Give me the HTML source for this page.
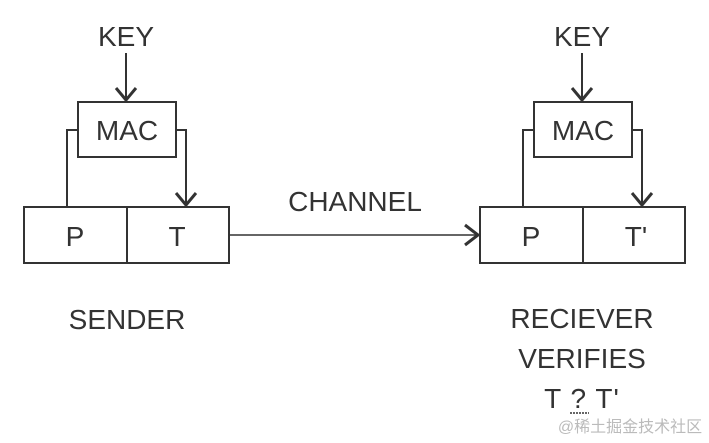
<!DOCTYPE html>
<html><head><style>body{margin:0;background:#fff}svg text{font-family:"Liberation Sans",sans-serif;fill:#333;font-size:28px;text-anchor:middle}</style></head><body>
<svg width="709" height="438" viewBox="0 0 709 438" xmlns="http://www.w3.org/2000/svg">
<g stroke="#333" stroke-width="2" fill="none">
<g id="s">
<line x1="126" y1="53" x2="126" y2="99"/>
<polyline points="116,88 126,100 136,88" stroke-width="3"/>
<rect x="78" y="102" width="98" height="55"/>
<polyline points="78,130 67,130 67,207"/>
<polyline points="176,130 186,130 186,205"/>
<polyline points="176,193 186,205 196,193" stroke-width="3"/>
<rect x="24" y="207" width="205" height="56"/>
<line x1="127" y1="207" x2="127" y2="263"/>
</g>
<use href="#s" transform="translate(456,0)"/>
<line x1="229" y1="235" x2="477" y2="235" stroke-width="1.5"/>
<polyline points="465,225 478,235 465,245" stroke-width="3"/>
</g>
<text x="126" y="46">KEY</text>
<text x="127" y="140">MAC</text>
<text x="75" y="246">P</text>
<text x="177" y="246">T</text>
<text x="582" y="46">KEY</text>
<text x="583" y="140">MAC</text>
<text x="531" y="246">P</text>
<text x="636" y="246">T'</text>
<text x="355" y="211">CHANNEL</text>
<text x="127" y="329">SENDER</text>
<text x="582" y="328">RECIEVER</text>
<text x="582" y="368">VERIFIES</text>
<text x="582" y="408" style="letter-spacing:1px">T ? T'</text>
<line x1="570" y1="413" x2="589" y2="413" stroke="#333" stroke-width="1.5" stroke-dasharray="2,1"/>
<text x="630" y="432" style="font-size:16px;fill:#bbb;font-family:'Liberation Sans','Noto Sans CJK SC',sans-serif">@稀土掘金技术社区</text>
</svg>
</body></html>
